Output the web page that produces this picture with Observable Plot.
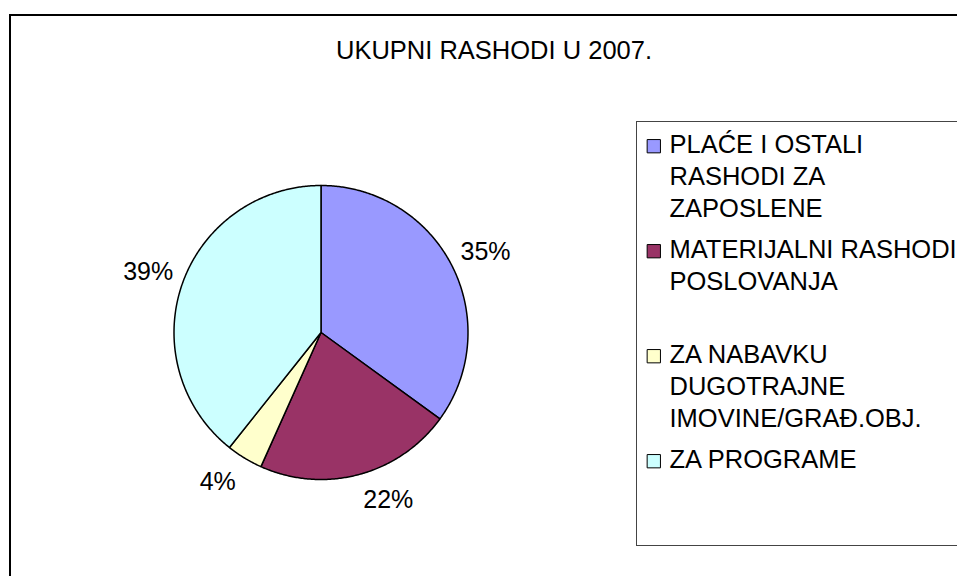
<!DOCTYPE html>
<html>
<head>
<meta charset="utf-8">
<script src="https://cdn.jsdelivr.net/npm/d3@7"></script>
<script src="https://cdn.jsdelivr.net/npm/@observablehq/plot@0.6"></script>
<style>
  html, body { margin: 0; padding: 0; background: #fff; }
  #wrap { position: relative; width: 957px; height: 576px; overflow: hidden; background: #fff;
          font-family: "Liberation Sans", Arial, sans-serif; }
  #outer { position: absolute; left: 9px; top: 14px; width: 1200px; height: 900px; border: 2px solid #000; }
  #legendBox { position: absolute; left: 636px; top: 121px; width: 600px; height: 423px; border: 1px solid #444; }
  #pie, #legend { position: absolute; left: 0; top: 0; line-height: 0; }
  #legend { left: 636px; top: 121px; }
</style>
</head>
<body>
<div id="wrap">
  <div id="outer"></div>
  <div id="legendBox"></div>
  <div id="pie"></div>
  <div id="legend"></div>
</div>
<script>
const title = "UKUPNI RASHODI U 2007.";
const categories = [
  "PLAĆE I OSTALI RASHODI ZA ZAPOSLENE",
  "MATERIJALNI RASHODI POSLOVANJA",
  "ZA NABAVKU DUGOTRAJNE IMOVINE/GRAĐ.OBJ.",
  "ZA PROGRAME"
];
const shares = [35.0, 21.7, 4.0, 39.3];
const colors = ["#9999FF", "#993366", "#FFFFCC", "#CCFFFF"];

const rows = categories.map((c, i) => ({category: c, share: shares[i]}));
const total = d3.sum(shares);
const arcs = d3.pie().sort(null).value(d => d.share)(rows);
const R = 147; // pie radius in pixels

// slice outlines (geometry derived from the pie angles)
const slicePts = [];
for (const a of arcs) {
  const c = a.data.category;
  slicePts.push({category: c, x: 0, y: 0});
  const n = Math.max(2, Math.ceil((a.endAngle - a.startAngle) / (Math.PI / 360)));
  for (let k = 0; k <= n; ++k) {
    const t = a.startAngle + (a.endAngle - a.startAngle) * k / n;
    slicePts.push({category: c, x: Math.sin(t), y: Math.cos(t)});
  }
  slicePts.push({category: c, x: 0, y: 0});
}
// labels: nearest corner of the label box sits just outside the rim
const labels = arcs.map(a => {
  const m = (a.startAngle + a.endAngle) / 2;
  const s = Math.sin(m), c = Math.cos(m);
  const r = c > 0 ? 1.065 : 1.115;
  return {
    text: Math.round(a.data.share / total * 100) + "%",
    right: s >= 0,
    x: r * s,
    y: r * c + Math.sign(c) * 9 / R
  };
});

const font = '"Liberation Sans", Arial, sans-serif';
const color = {domain: categories, range: colors};

const pie = Plot.plot({
  width: 957,
  height: 576,
  margin: 0,
  style: {fontFamily: font, background: "transparent", overflow: "visible"},
  x: {domain: [-1, 1], range: [320.5 - R, 320.5 + R], axis: null},
  y: {domain: [-1, 1], range: [332 + R, 332 - R], axis: null},
  color,
  marks: [
    Plot.text([title], {frameAnchor: "top-left", dx: 493.5, dy: 50, text: d => d,
      textAnchor: "middle", lineAnchor: "middle", fontSize: 25.5, fill: "#000"}),
    Plot.line(slicePts, {x: "x", y: "y", z: "category", fill: "category",
      stroke: "#000", strokeWidth: 1.5, strokeLinejoin: "round", curve: "linear"}),
    Plot.text(labels.filter(d => d.right), {x: "x", y: "y", text: "text", textAnchor: "start",
      lineAnchor: "middle", fontSize: 25, fill: "#000"}),
    Plot.text(labels.filter(d => !d.right), {x: "x", y: "y", text: "text", textAnchor: "end",
      lineAnchor: "middle", fontSize: 25, fill: "#000"})
  ]
});
document.getElementById("pie").appendChild(pie);

const legend = Plot.plot({
  width: 321,
  height: 424,
  margin: 0,
  style: {fontFamily: font, background: "transparent", overflow: "visible"},
  y: {type: "point", domain: categories, range: [7.6, 324.6], padding: 0, axis: null},
  color,
  marks: [
    Plot.dot(categories, {y: d => d, frameAnchor: "left", dx: 17.3, dy: 15.7,
      symbol: "square", r: 7.5, fill: d => d, stroke: "#000", strokeWidth: 1}),
    Plot.text(categories, {y: d => d, frameAnchor: "left", dx: 33, text: d => d,
      textAnchor: "start", lineAnchor: "top", lineWidth: 12, lineHeight: 1.245,
      fontSize: 25.5, fill: "#000"})
  ]
});
document.getElementById("legend").appendChild(legend);
</script>
</body>
</html>
